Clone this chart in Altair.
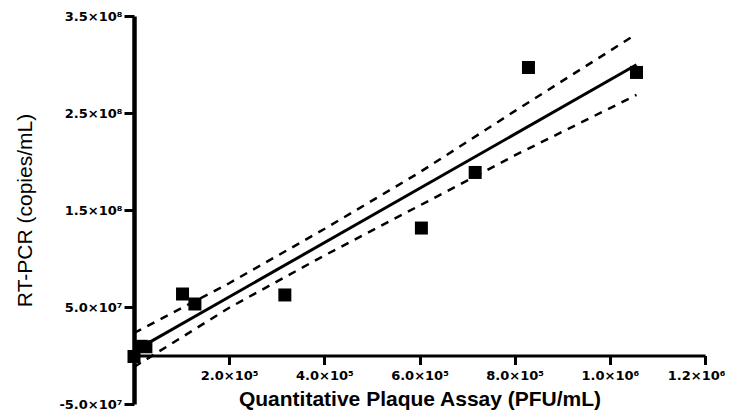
import altair as alt
import pandas as pd

# Measured points (Quantitative Plaque Assay PFU/mL vs RT-PCR copies/mL)
pfu = [0, 1.5e4, 2.5e4, 1.02e5, 1.28e5, 3.17e5, 6.04e5, 7.17e5, 8.29e5, 1.056e6]
rtpcr = [-1.0e6, 9.5e6, 9.0e6, 6.34e7, 5.31e7, 6.24e7, 1.314e8, 1.887e8, 2.969e8, 2.918e8]

# Confidence band
band_x = [0, 2e5, 4e5, 6e5, 8e5, 1.056e6]
band_upper = [2.32e7, 7.45e7, 1.304e8, 1.887e8, 2.519e8, 3.314e8]
band_lower = [-1.19e7, 4.92e7, 1.031e8, 1.545e8, 2.062e8, 2.686e8]

x_ticks = [2e5, 4e5, 6e5, 8e5, 1e6, 1.2e6]
x_tick_labels = ["2.0×10⁵", "4.0×10⁵", "6.0×10⁵", "8.0×10⁵", "1.0×10⁶", "1.2×10⁶"]
y_ticks = [-5e7, 5e7, 1.5e8, 2.5e8, 3.5e8]
y_tick_labels = ["-5.0×10⁷", "5.0×10⁷", "1.5×10⁸", "2.5×10⁸", "3.5×10⁸"]


def label_expr(values, labels):
    expr = "''"
    for v, lab in zip(reversed(values), reversed(labels)):
        expr = f"abs(datum.value - ({v})) < 1 ? '{lab}' : ({expr})"
    return expr


pts = pd.DataFrame({"x": pfu, "y": rtpcr})
band = pd.DataFrame(
    {
        "x": band_x + band_x,
        "y": band_upper + band_lower,
        "which": ["upper"] * len(band_x) + ["lower"] * len(band_x),
    }
)

H = 388
zero_offset = -(H * 5e7 / 4e8)  # place x axis at y = 0

x_enc = alt.X(
    "x:Q",
    scale=alt.Scale(domain=[0, 1.2e6], nice=False, zero=False),
    axis=alt.Axis(
        values=x_ticks,
        labelExpr=label_expr(x_ticks, x_tick_labels),
        title="Quantitative Plaque Assay (PFU/mL)",
        titleFont="Liberation Sans",
        titleFontSize=21,
        titleFontWeight="bold",
        titleColor="black",
        titleBaseline="alphabetic",
        titleY=49.5,
        labelFont="DejaVu Sans",
        labelFontSize=13,
        labelFontWeight="bold",
        labelColor="black",
        labelFlush=True,
        labelFlushOffset=20,
        labelOverlap=False,
        labelPadding=5,
        tickSize=9,
        tickWidth=3,
        tickColor="black",
        domainColor="black",
        domainWidth=3,
        grid=False,
        offset=zero_offset,
    ),
)

y_enc = alt.Y(
    "y:Q",
    scale=alt.Scale(domain=[-5e7, 3.5e8], nice=False, zero=False),
    axis=alt.Axis(
        values=y_ticks,
        labelExpr=label_expr(y_ticks, y_tick_labels),
        title="RT-PCR (copies/mL)",
        titleFont="Liberation Sans",
        titleFontSize=21,
        titleFontWeight="normal",
        titleColor="black",
        titleX=-99,
        titleY=H / 2,
        titleAlign="center",
        titleBaseline="bottom",
        labelFont="DejaVu Sans",
        labelFontSize=13,
        labelFontWeight="bold",
        labelColor="black",
        labelFlush=False,
        labelOverlap=False,
        labelPadding=2,
        tickSize=10,
        tickWidth=3,
        tickColor="black",
        domainColor="black",
        domainWidth=4.5,
        grid=False,
    ),
)

band_layer = (
    alt.Chart(band)
    .mark_line(color="black", strokeWidth=2.5, strokeDash=[8, 7])
    .encode(x=x_enc, y=y_enc, detail="which:N")
)

fit_layer = (
    alt.Chart(pts)
    .transform_regression("x", "y")
    .mark_line(color="black", strokeWidth=3)
    .encode(x=x_enc, y=y_enc)
)

pt_layer = (
    alt.Chart(pts)
    .mark_square(color="black", size=169, opacity=1)
    .encode(x=x_enc, y=y_enc)
)

chart = (
    alt.layer(band_layer, fit_layer, pt_layer)
    .properties(
        width=571,
        height=H,
        autosize=alt.AutoSizeParams(type="none"),
        padding={"left": 126, "top": 8, "right": 20, "bottom": 8},
        background="white",
    )
    .configure_view(stroke=None)
)

chart.save("out.html", embed_options={"renderer": "svg", "actions": False})
